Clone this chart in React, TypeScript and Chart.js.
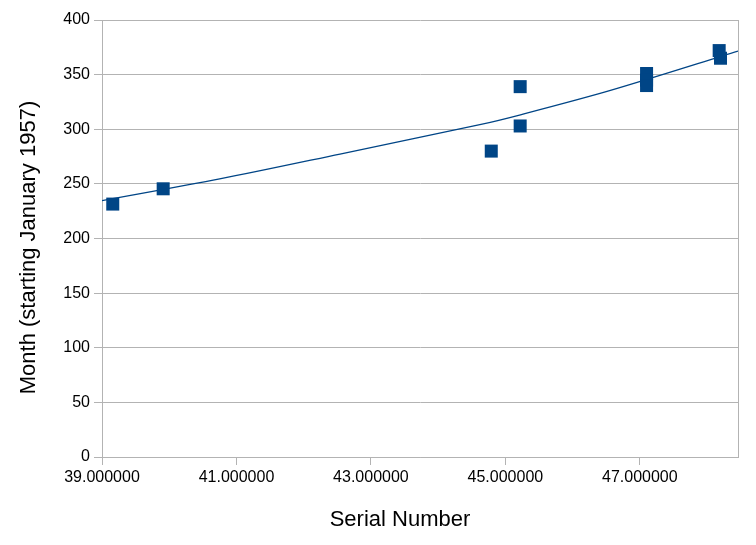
import React, { useEffect, useRef } from "react";
import { Chart, registerables } from "chart.js";

Chart.register(...registerables);

// Observations: serial number (millions) vs. month
const serialNumbers = [39.16, 39.91, 44.79, 45.22, 45.22, 47.1, 47.1, 47.1, 48.18, 48.2];
const months = [231.5, 245.5, 280, 339, 303, 351, 345, 340, 372, 365];

// Trend line
const trendX = [39.0, 40.75, 42.54, 44.62, 45.21, 46.55, 48.46];
const trendY = [234.6, 254.5, 277.3, 304.2, 313.0, 335.3, 371.5];

const xTicks = [39, 41, 43, 45, 47];
const xMin = 39;
const xMax = 48.46;
const yMin = 0;
const yMax = 400;
const yStep = 50;

const xTitle = "Serial Number";
const yTitle = "Month (starting January 1957)";

const BLUE = "#004586";
const GRID = "#b3b3b3";
const FONT = "'Liberation Sans', Arial, sans-serif";

const titlePlugin = {
  id: "axisTitlesCustom",
  afterDraw(chart: any) {
    const ctx = chart.ctx;
    ctx.save();
    ctx.fillStyle = "#000";
    ctx.font = `22px ${FONT}`;
    ctx.textAlign = "center";
    ctx.textBaseline = "middle";
    ctx.fillText(xTitle, 400, 520);
    ctx.translate(29, 247.5);
    ctx.rotate(-Math.PI / 2);
    ctx.fillText(yTitle, 0, 0);
    ctx.restore();
  },
};

export default function App() {
  const ref = useRef<HTMLCanvasElement | null>(null);

  useEffect(() => {
    if (!ref.current) return;
    const chart = new Chart(ref.current, {
      type: "scatter",
      data: {
        datasets: [
          {
            label: "Data",
            data: serialNumbers.map((x, i) => ({ x, y: months[i] })),
            pointStyle: "rect",
            pointRadius: 9.2,
            pointHoverRadius: 9.2,
            borderWidth: 0,
            backgroundColor: BLUE,
            borderColor: BLUE,
            order: 1,
          },
          {
            label: "Trend",
            data: trendX.map((x, i) => ({ x, y: trendY[i] })),
            showLine: true,
            pointRadius: 0,
            borderColor: BLUE,
            borderWidth: 1.3,
            backgroundColor: BLUE,
            tension: 0.3,
            order: 2,
          },
        ],
      },
      options: {
        animation: false,
        responsive: true,
        maintainAspectRatio: false,
        layout: { padding: { top: 20, right: 18, left: 0, bottom: 0 } },
        plugins: {
          legend: { display: false },
          tooltip: { enabled: false },
          title: { display: false },
        },
        scales: {
          x: {
            type: "linear",
            min: xMin,
            max: xMax,
            afterBuildTicks: (s: any) => {
              s.ticks = xTicks.map((v) => ({ value: v }));
            },
            afterFit: (s: any) => {
              s.height = 88;
            },
            ticks: {
              color: "#000",
              font: { family: FONT, size: 16 },
              padding: 3,
              maxRotation: 0,
              autoSkip: false,
              callback: (v: any) => Number(v).toFixed(6),
            },
            grid: {
              drawOnChartArea: false,
              drawTicks: true,
              tickLength: 8,
              color: GRID,
            },
            border: { color: GRID },
          },
          y: {
            type: "linear",
            min: yMin,
            max: yMax,
            afterFit: (s: any) => {
              s.width = 102;
            },
            ticks: {
              stepSize: yStep,
              color: "#000",
              font: { family: FONT, size: 16 },
              padding: 4,
            },
            grid: { color: GRID, tickLength: 8 },
            border: { color: GRID },
          },
          y2: {
            type: "linear",
            position: "right",
            afterFit: (s: any) => {
              s.width = 0;
            },
            ticks: { display: false },
            grid: { drawOnChartArea: false, drawTicks: false },
            border: { color: GRID },
          },
        },
      },
      plugins: [titlePlugin],
    });
    return () => chart.destroy();
  }, []);

  return (
    <div style={{ position: "fixed", left: 0, top: 0, width: 756, height: 545, background: "#fff" }}>
      <canvas ref={ref} />
    </div>
  );
}
